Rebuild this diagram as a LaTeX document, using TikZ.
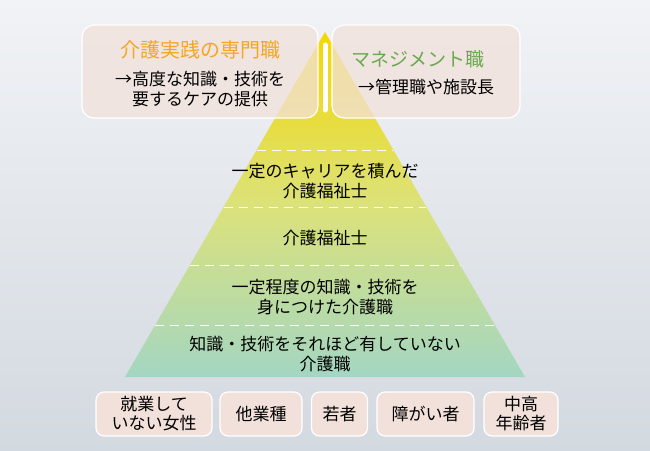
\documentclass[tikz,border=0pt]{standalone}
\usepackage{fontspec}
\setmainfont{Noto Sans CJK JP}
\definecolor{bgA}{HTML}{F1F3F6}\definecolor{bgB}{HTML}{D3D9E0}
\definecolor{pyTop}{HTML}{F4D800}\definecolor{pyMid}{HTML}{DCE27A}\definecolor{pyBot}{HTML}{A3D6C2}
\definecolor{boxfill}{HTML}{F2E1DA}\definecolor{orangeT}{HTML}{F5A623}\definecolor{greenT}{HTML}{6AA84F}
\tikzset{
 lbl/.style={font=\fontsize{17}{20}\selectfont, align=center, text=black, inner sep=0pt},
 topbox/.style={draw=white, line width=1.2pt, rounded corners=12pt, fill=boxfill, fill opacity=0.75, text opacity=1},
 botbox/.style={draw=white, line width=1.2pt, rounded corners=8pt, fill=boxfill, font=\fontsize{17}{19}\selectfont, align=center, inner sep=0pt},
 sep/.style={white, dash pattern=on 9pt off 6pt, line width=1pt}
}
\begin{document}
\begin{tikzpicture}[x=1pt,y=-1pt]
\shade[top color=bgA,bottom color=bgB] (0,0) rectangle (650,450);
\useasboundingbox (0,0) rectangle (650,450);
\shade[top color=pyTop, bottom color=pyBot, middle color=pyMid] (325,32) -- (525,377) -- (125,377) -- cycle;
\draw[white, line width=5pt, line cap=round] (325,45) -- (325,110);
\foreach \y in {150,207,265,325}{
 \pgfmathsetmacro{\hw}{0.5797*(\y-32)}
 \draw[sep] (325-\hw,\y) -- (325+\hw,\y);
}
\node[topbox, minimum width=236pt, minimum height=93pt] (tl) at (200,71.5) {};
\node[topbox, minimum width=188pt, minimum height=93pt] (tr) at (426,71.5) {};
\node[lbl] (tlt) at (200,50) {\textcolor{orangeT}{\fontsize{20}{22}\selectfont 介護実践の専門職}};
\node[lbl] (tlb) at (200,89) {→高度な知識・技術を\\要するケアの提供};
\node[lbl] (trt) at (418,59) {\textcolor{greenT}{\fontsize{19}{21}\selectfont マネジメント職}};
\node[lbl] (trb) at (426,87) {→管理職や施設長};
\node[lbl] (l1) at (325,181) {一定のキャリアを積んだ\\介護福祉士};
\node[lbl] (l2) at (325,238) {介護福祉士};
\node[lbl] (l3) at (325,297) {一定程度の知識・技術を\\身につけた介護職};
\node[lbl] (l4) at (325,354) {知識・技術をそれほど有していない\\介護職};
\node[botbox, minimum width=116pt, minimum height=44pt] (b1) at (154,414) {就業して\\いない女性};
\node[botbox, minimum width=82pt, minimum height=44pt] (b2) at (261,414) {他業種};
\node[botbox, minimum width=56pt, minimum height=44pt] (b3) at (339.5,414) {若者};
\node[botbox, minimum width=97pt, minimum height=44pt] (b4) at (425.5,414) {障がい者};
\node[botbox, minimum width=74pt, minimum height=44pt] (b5) at (521,414) {中高\\年齢者};
\end{tikzpicture}
\end{document}
